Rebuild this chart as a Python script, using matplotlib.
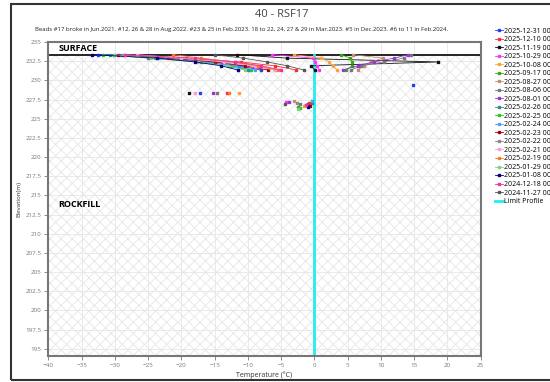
import numpy as np
import matplotlib.pyplot as plt
from matplotlib.patches import Rectangle

plt.rcParams['font.family'] = ['Open Sans', 'DejaVu Sans']
plt.rcParams['hatch.linewidth'] = 0.6

# bead elevations (m) for the connected part of each profile
levels = [233.35, 232.9, 232.4, 231.9, 231.35]

dates = ["2025-12-31", "2025-12-10", "2025-11-19", "2025-10-29", "2025-10-08",
         "2025-09-17", "2025-08-27", "2025-08-06", "2025-08-01", "2025-02-26",
         "2025-02-25", "2025-02-24", "2025-02-23", "2025-02-22", "2025-02-21",
         "2025-02-19", "2025-01-29", "2025-01-08", "2024-12-18", "2024-11-27"]

colors = ["#1f3fff", "#ff2a2a", "#111111", "#ff33ff", "#ffa040",
          "#33aa11", "#c09070", "#777777", "#9933dd", "#338888",
          "#22cc22", "#5599ff", "#aa0000", "#8a8a8a", "#ff99dd",
          "#ff7722", "#88cc88", "#000088", "#ee3399", "#555555"]

# temperatures at each level (°C)
temps = [
    [-32.5, -19.3, -15.5, -11.3, -8.1],
    [-28.5, -20.5, -11.1, -6.0, -2.7],
    [-11.7, -4.1, 18.6, -0.5, 0.05],
    [-6.4, -0.2, 0.15, 0.4, 0.65],
    [-3.1, 1.0, 2.2, 2.8, 3.4],
    [4.0, 5.4, 5.6, 5.7, 4.7],
    [5.8, 10.3, 8.5, 7.5, 6.5],
    [14.5, 13.4, 10.4, 7.0, 5.5],
    [14.1, 12.0, 8.9, 6.5, 4.3],
    [-30.8, -25.0, -17.0, -12.6, -10.0],
    [-31.8, -24.0, -16.5, -12.2, -9.5],
    [-30.2, -23.5, -16.0, -11.8, -9.0],
    [-29.5, -22.0, -15.0, -10.5, -7.0],
    [-29.0, -21.0, -13.0, -9.0, -6.0],
    [-26.7, -20.0, -13.6, -9.0, -6.0],
    [-21.2, -17.0, -12.0, -8.5, -5.5],
    [-30.2, -24.5, -17.5, -13.0, -10.5],
    [-33.4, -23.6, -17.9, -14.0, -11.5],
    [-28.5, -18.0, -12.0, -8.0, -5.0],
    [-15.0, -10.7, -7.1, -4.1, -1.6],
]

# lone beads below the broken ones: (temperature, elevation)
lone = [
    [(-17.2, 228.4), (14.8, 229.4), (-1.0, 226.9)],
    [(-13.2, 228.4), (-0.8, 227.1)],
    [(-18.8, 228.4), (-1.2, 226.8)],
    [(-4.2, 227.2)],
    [(-11.4, 228.4), (-1.5, 226.7)],
    [(-2.4, 226.5)],
    [(-3.0, 227.3)],
    [(-14.7, 228.4), (-2.2, 226.9)],
    [(-15.2, 228.4), (-3.8, 227.2)],
    [(-0.4, 227.0)],
    [(-2.1, 226.4)],
    [(-0.3, 227.3)],
    [(-0.6, 226.6)],
    [(-2.6, 227.0)],
    [(-18.0, 228.4)],
    [(-12.8, 228.4)],
    [(-2.4, 226.3)],
    [(-0.9, 226.5)],
    [(-1.3, 226.8)],
    [(-4.4, 226.9)],
]

surface = 233.3
limit_t = 0

fig = plt.figure(figsize=(5.5, 3.82), dpi=100)
fig.patches.append(Rectangle((11 / 550, 2 / 382), 1, 1 - 6 / 382, transform=fig.transFigure,
                             fill=False, edgecolor='#333333', linewidth=1.5))
ax = fig.add_axes([0.088, 0.067, 0.786, 0.823])

ax.set_xlim(-40, 25)
ax.set_ylim(194, 235)
# rockfill zone below the surface
ax.add_patch(Rectangle((-40, 194), 65, surface - 194, facecolor='none',
                       edgecolor='#e6e6e6', hatch='xxx', linewidth=0, zorder=0.4))
ax.grid(True, color='#e6e6e6', linewidth=0.6, zorder=0.5)
ax.set_axisbelow(True)
ax.axhline(surface, color='black', linewidth=1.2, zorder=2)

for d, c, t, lo in zip(dates, colors, temps, lone):
    ax.plot(t, levels, color=c, marker='s', markersize=1.5, linewidth=0.6,
            label=d + " 00:00:00", zorder=3)
    ax.plot([p[0] for p in lo], [p[1] for p in lo], color=c, marker='s',
            markersize=1.6, linestyle='none', zorder=3)

ax.plot([limit_t, limit_t], [194, surface], color='#22eeee', linewidth=2,
        label='Limit Profile', zorder=2.5)

ax.text(-38.5, 234.15, 'SURFACE', fontsize=6.5, fontweight='bold', va='center')
ax.text(-38.5, 213.8, 'ROCKFILL', fontsize=6.5, fontweight='bold', va='center')

ax.set_xticks(np.arange(-40, 26, 5))
ax.set_yticks(np.arange(195, 235.1, 2.5))
ax.set_yticklabels(['{:g}'.format(v) for v in np.arange(195, 235.1, 2.5)])
ax.tick_params(labelsize=4.5, colors='#777777', length=3, width=0.6, pad=2)
for s in ax.spines.values():
    s.set_color('#777777')
    s.set_linewidth(1.5)
ax.set_xlabel('Temperature (°C)', fontsize=5, color='#333333', labelpad=2)
ax.set_ylabel('Elevation(m)', fontsize=4.5, color='#333333', labelpad=3)

fig.text(0.512, 0.963, '40 - RSF17', fontsize=8, color='#444444', ha='center', va='center')
fig.text(0.44, 0.922, 'Beads #17 broke in Jun.2021. #12, 26 & 28 in Aug.2022. #23 & 25 in Feb.2023. '
         '18 to 22, 24, 27 & 29 in Mar.2023. #5 in Dec.2023. #6 to 11 in Feb.2024.',
         fontsize=4.3, color='#222222', ha='center', va='center')

fig.legend(loc='upper left', bbox_to_anchor=(0.9, 0.928), fontsize=5.0, frameon=False,
           handlelength=1.1, handletextpad=0.25, labelspacing=0.22, borderaxespad=0,
           borderpad=0, markerscale=1.2)

fig.savefig('out.png', dpi=100)
